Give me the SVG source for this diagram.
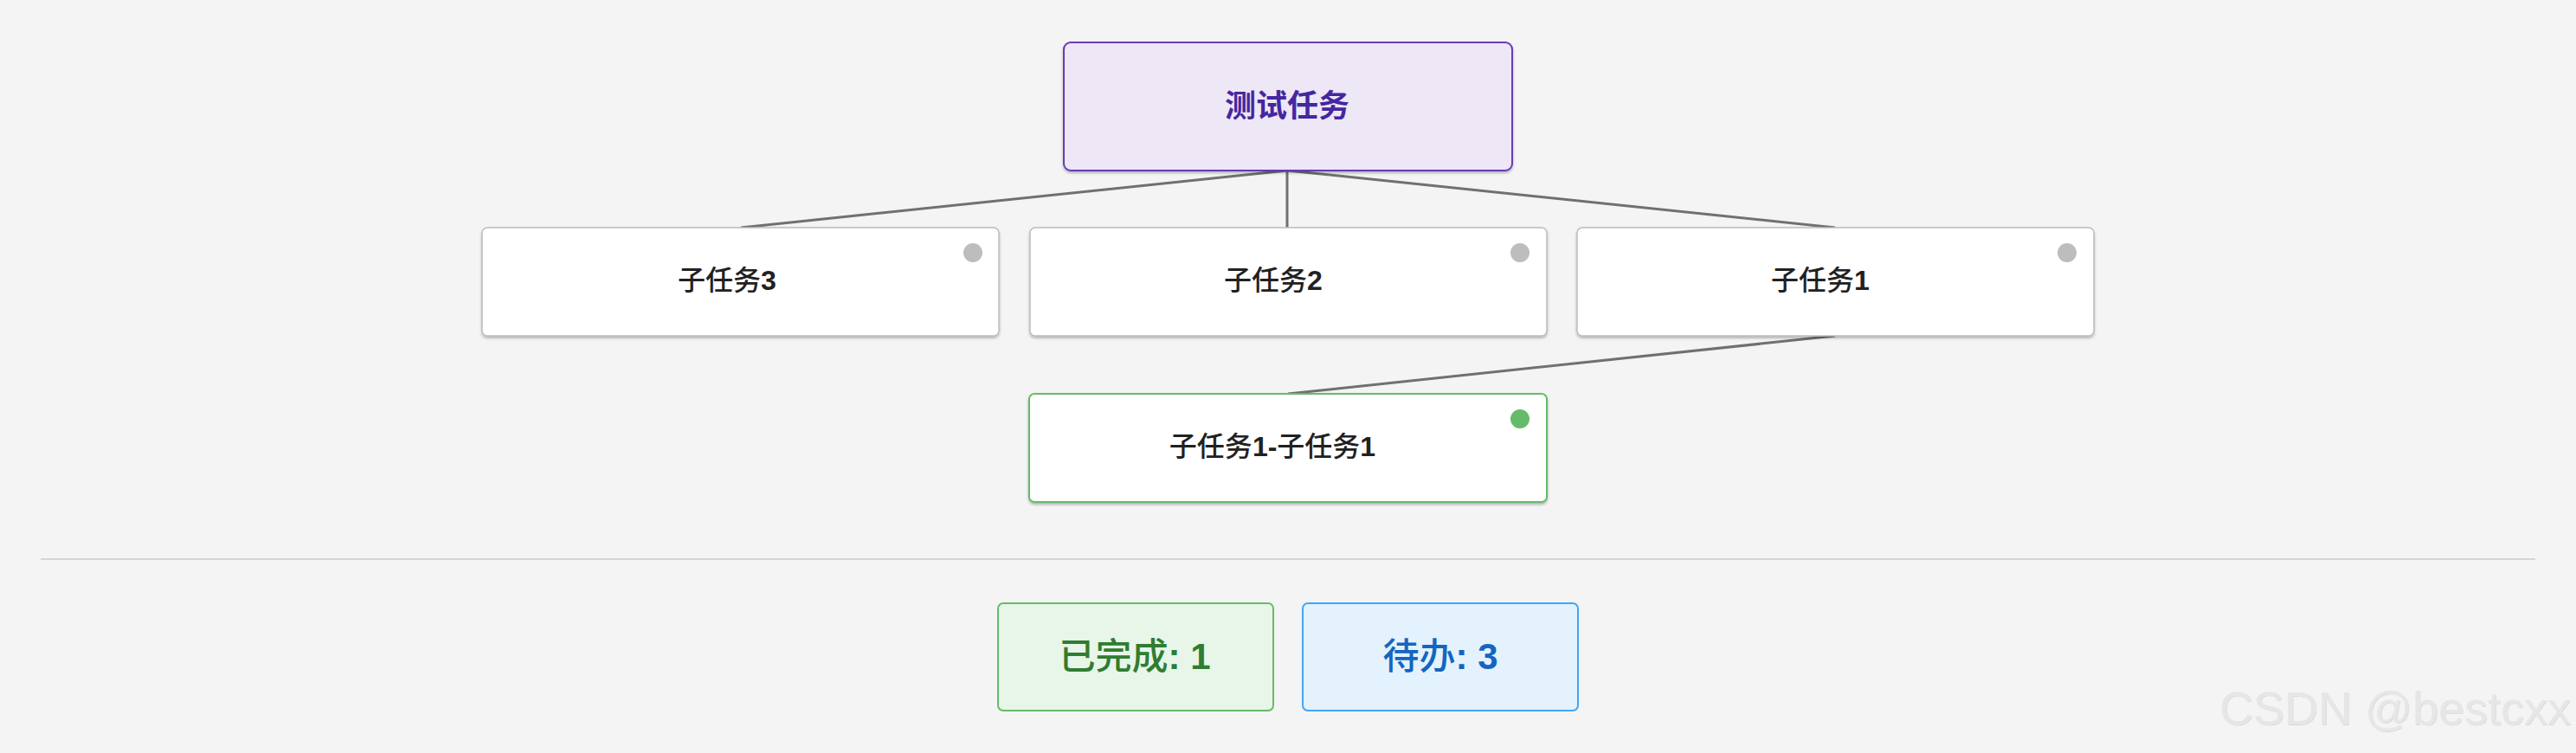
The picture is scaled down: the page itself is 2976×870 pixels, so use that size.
<svg xmlns="http://www.w3.org/2000/svg" width="2976" height="870" viewBox="0 0 2976 870">
<defs>
<filter id="sh" x="-5%" y="-10%" width="110%" height="130%">
<feDropShadow dx="0" dy="2" stdDeviation="1.5" flood-color="#000" flood-opacity="0.28"/>
</filter>
<filter id="wm" x="-5%" y="-20%" width="110%" height="150%">
<feDropShadow dx="0.8" dy="0.8" stdDeviation="0.4" flood-color="#000" flood-opacity="0.14"/>
</filter>
<style>
text{font-family:"Liberation Sans","Noto Sans CJK SC",sans-serif;text-anchor:middle;dominant-baseline:central}
.child{fill:#ffffff;stroke:#bdbdbd;stroke-width:1.5}
.done{fill:#ffffff;stroke:#66bb6a;stroke-width:2}
.lbl{font-size:32px;fill:#212121;font-weight:500}
.num{font-weight:bold}
.dotg{fill:#bdbdbd}
.dotd{fill:#66bb6a}
.edge{stroke:#707070;stroke-width:3;fill:none}
.stat{font-size:42px;font-weight:500}
</style>
</defs>
<rect x="0" y="0" width="2976" height="870" fill="#f4f4f4"/>
<g id="connectors">
<line class="edge" x1="1487" y1="197" x2="856" y2="263"/>
<line class="edge" x1="1487" y1="197" x2="1487" y2="263"/>
<line class="edge" x1="1487" y1="197" x2="2120" y2="263"/>
<line class="edge" x1="2120" y1="388" x2="1488" y2="455"/>
</g>
<g id="root">
<rect x="1229" y="49" width="518" height="148" rx="8" fill="#ede7f6" stroke="#673ab7" stroke-width="2" filter="url(#sh)"/>
<text x="1487" y="122" font-size="36" font-weight="bold" fill="#4527a0">测试任务</text>
</g>
<g id="sub3">
<rect class="child" x="557" y="263" width="597" height="125" rx="6" filter="url(#sh)"/>
<circle class="dotg" cx="1124" cy="292" r="11"/>
<text class="lbl" x="840" y="324">子任务<tspan class="num">3</tspan></text>
</g>
<g id="sub2">
<rect class="child" x="1190" y="263" width="597" height="125" rx="6" filter="url(#sh)"/>
<circle class="dotg" cx="1756" cy="292" r="11"/>
<text class="lbl" x="1471" y="324">子任务<tspan class="num">2</tspan></text>
</g>
<g id="sub1">
<rect class="child" x="1822" y="263" width="597" height="125" rx="6" filter="url(#sh)"/>
<circle class="dotg" cx="2388" cy="292" r="11"/>
<text class="lbl" x="2103" y="324">子任务<tspan class="num">1</tspan></text>
</g>
<g id="sub1-1">
<rect class="done" x="1189" y="455" width="598" height="125" rx="6" filter="url(#sh)"/>
<circle class="dotd" cx="1756" cy="484" r="11"/>
<text class="lbl" x="1470" y="516">子任务<tspan class="num">1-</tspan>子任务<tspan class="num">1</tspan></text>
</g>
<line x1="47" y1="646" x2="2929" y2="646" stroke="#d6d6d6" stroke-width="2"/>
<g id="stat-done">
<rect x="1153" y="697" width="318" height="124" rx="6" fill="#e8f5e9" stroke="#66bb6a" stroke-width="2"/>
<text class="stat" x="1311" y="758" fill="#2e7d32">已完成<tspan class="num">: 1</tspan></text>
</g>
<g id="stat-todo">
<rect x="1505" y="697" width="318" height="124" rx="6" fill="#e3f2fd" stroke="#42a5f5" stroke-width="2"/>
<text class="stat" x="1664" y="758" fill="#1565c0">待办<tspan class="num">: 3</tspan></text>
</g>
<text x="2767" y="818" font-size="54" fill="#e6e6e6" filter="url(#wm)">CSDN @bestcxx</text>
</svg>
